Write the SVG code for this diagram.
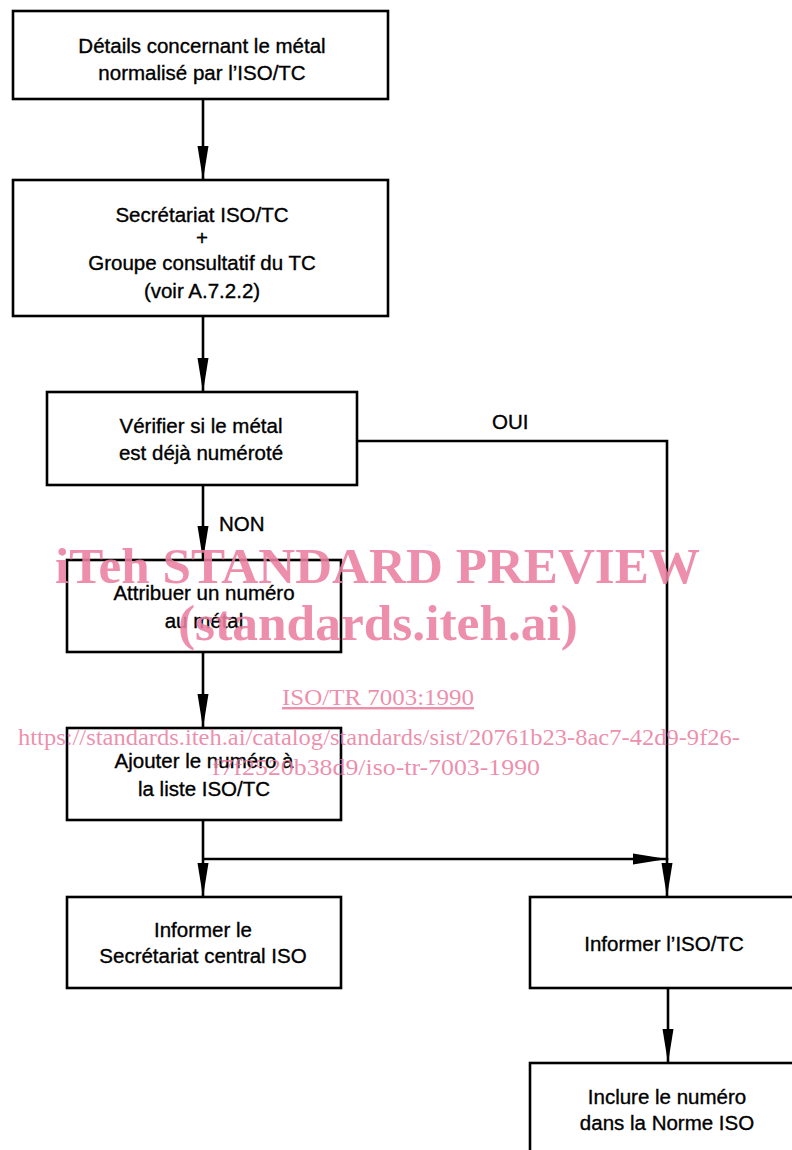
<svg xmlns="http://www.w3.org/2000/svg" width="792" height="1150" viewBox="0 0 792 1150">
<style>
.box{fill:#fff;stroke:#000;stroke-width:2.6}
.t{font-family:"Liberation Sans",Arial,sans-serif;font-size:20.5px;fill:#000;stroke:#000;stroke-width:0.35;text-anchor:middle}
.l{font-family:"Liberation Sans",Arial,sans-serif;font-size:20.5px;fill:#000;stroke:#000;stroke-width:0.35}
.c{fill:none;stroke:#000;stroke-width:2.6}
.wm{font-family:"Liberation Serif","Times New Roman",serif;fill:#eb7fa1;fill-opacity:0.88}
</style>
<defs>
<marker id="ah" markerUnits="userSpaceOnUse" markerWidth="36" markerHeight="12" refX="34" refY="6" orient="auto">
<path d="M0,0.5 L34,6 L0,11.5 z" fill="#000"/>
</marker>
</defs>
<rect width="792" height="1150" fill="#fff"/>
<g id="connectors">
<line class="c" x1="203" y1="99" x2="203" y2="180" marker-end="url(#ah)"/>
<line class="c" x1="203" y1="316" x2="203" y2="392" marker-end="url(#ah)"/>
<line class="c" x1="203" y1="485" x2="203" y2="560" marker-end="url(#ah)"/>
<line class="c" x1="203" y1="652" x2="203" y2="728" marker-end="url(#ah)"/>
<line class="c" x1="203" y1="820" x2="203" y2="897" marker-end="url(#ah)"/>
<line class="c" x1="203" y1="859" x2="667" y2="859" marker-end="url(#ah)"/>
<polyline class="c" points="357,441 667,441 667,860"/>
<line class="c" x1="667" y1="858" x2="667" y2="897" marker-end="url(#ah)"/>
<line class="c" x1="668" y1="988" x2="668" y2="1063" marker-end="url(#ah)"/>
<text class="l" x="492" y="429">OUI</text>
<text class="l" x="219" y="531">NON</text>
</g>
<g id="n1">
<rect class="box" x="13" y="11" width="375" height="88"/>
<text class="t" x="202" y="53">Détails concernant le métal</text>
<text class="t" x="202" y="80">normalisé par l’ISO/TC</text>
</g>
<g id="n2">
<rect class="box" x="13" y="180" width="375" height="136"/>
<text class="t" x="202" y="222">Secrétariat ISO/TC</text>
<text class="t" x="202" y="245">+</text>
<text class="t" x="202" y="270">Groupe consultatif du TC</text>
<text class="t" x="202" y="298">(voir A.7.2.2)</text>
</g>
<g id="n3">
<rect class="box" x="47" y="392" width="310" height="93"/>
<text class="t" x="201" y="433">Vérifier si le métal</text>
<text class="t" x="201" y="460">est déjà numéroté</text>
</g>
<g id="n4">
<rect class="box" x="67" y="560" width="274" height="92"/>
<text class="t" x="204" y="600">Attribuer un numéro</text>
<text class="t" x="204" y="628">au métal</text>
</g>
<g id="n5">
<rect class="box" x="67" y="728" width="274" height="92"/>
<text class="t" x="204" y="768">Ajouter le numéro à</text>
<text class="t" x="204" y="796">la liste ISO/TC</text>
</g>
<g id="n6">
<rect class="box" x="67" y="897" width="274" height="91"/>
<text class="t" x="203" y="937">Informer le</text>
<text class="t" x="203" y="963">Secrétariat central ISO</text>
</g>
<g id="n7">
<rect class="box" x="530" y="897" width="280" height="91"/>
<text class="t" x="664" y="951">Informer l’ISO/TC</text>
</g>
<g id="n8">
<rect class="box" x="530" y="1063" width="280" height="100"/>
<text class="t" x="667" y="1104">Inclure le numéro</text>
<text class="t" x="667" y="1130">dans la Norme ISO</text>
</g>
<g id="watermark">
<text class="wm" x="55" y="583" font-size="50" font-weight="bold" textLength="645" lengthAdjust="spacingAndGlyphs">iTeh STANDARD PREVIEW</text>
<text class="wm" x="178" y="640" font-size="50" font-weight="bold" textLength="400" lengthAdjust="spacingAndGlyphs">(standards.iteh.ai)</text>
<text class="wm" x="282" y="705" font-size="24" textLength="192" lengthAdjust="spacingAndGlyphs" text-decoration="underline">ISO/TR 7003:1990</text>
<text class="wm" x="18" y="745" font-size="24" textLength="722" lengthAdjust="spacingAndGlyphs">https://standards.iteh.ai/catalog/standards/sist/20761b23-8ac7-42d9-9f26-</text>
<text class="wm" x="212" y="775" font-size="24" textLength="328" lengthAdjust="spacingAndGlyphs">f7f2520b38d9/iso-tr-7003-1990</text>
</g>
</svg>
